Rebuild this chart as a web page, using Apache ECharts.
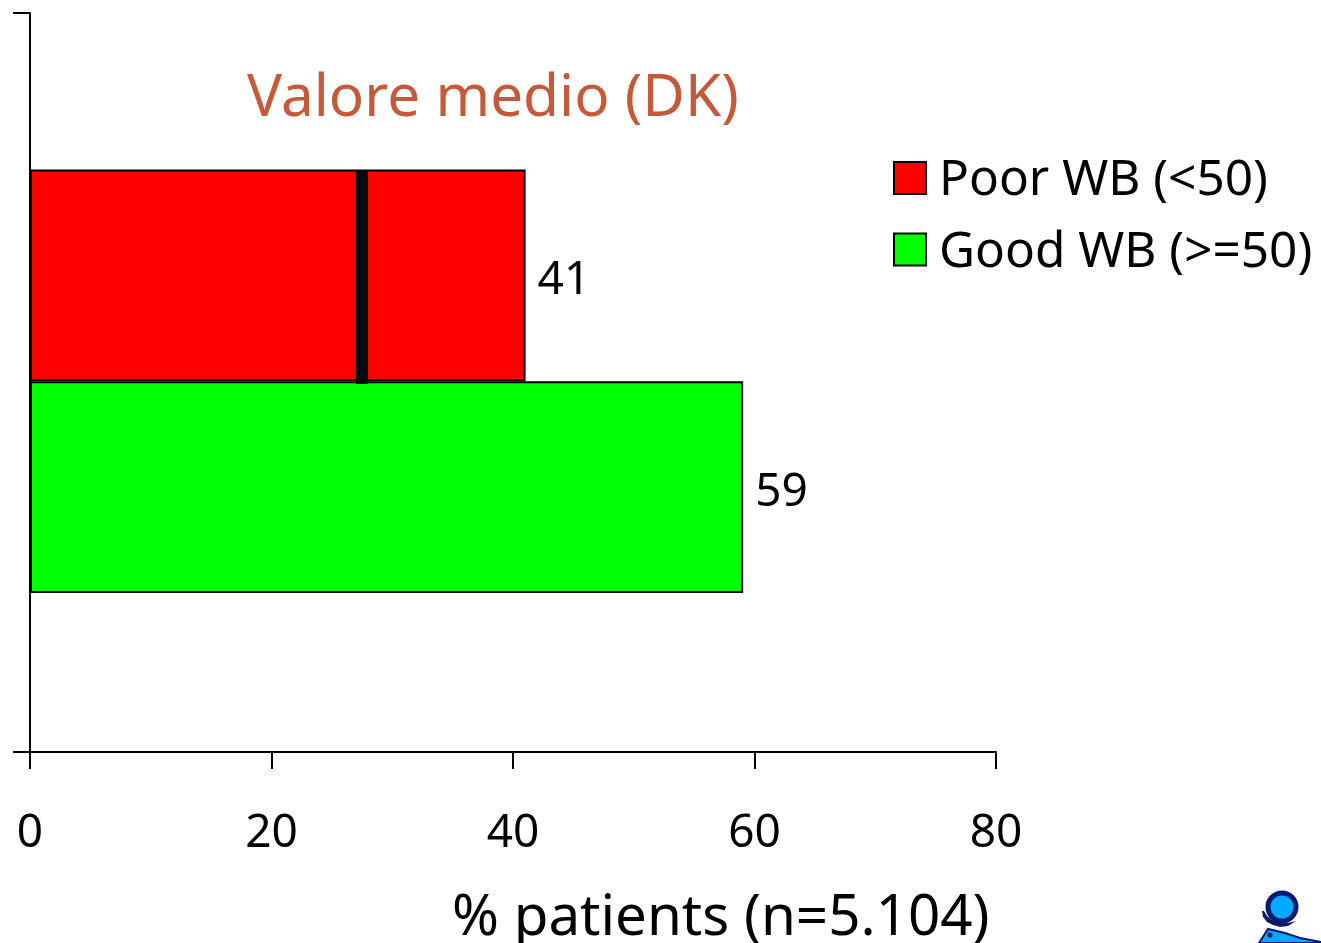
<!DOCTYPE html>
<html><head><meta charset="utf-8">
<style>html,body{margin:0;padding:0;background:#fff}#c{width:1321px;height:943px}</style>
<script src="https://cdn.jsdelivr.net/npm/echarts@6/dist/echarts.min.js"></script>
</head><body><div id="c"></div>
<script>
const categories = ['Poor WB (<50)', 'Good WB (>=50)'];
const poorValues = [41, null];
const goodValues = [null, 59];
const meanValue = 27.45;
const xTicks = [0, 20, 40, 60, 80];
const titleText = 'Valore medio (DK)';
const xName = '% patients (n=5.104)';
const FONT = '"Noto Sans"';

const chart = echarts.init(document.getElementById('c'), null, {renderer:'canvas'});
const barStyle = c => ({color:c, borderColor:'#000', borderWidth:2});
const lbl = {show:true, position:'right', distance:12, fontFamily:FONT, fontSize:46, color:'#000', offset:[0,5.5]};
chart.setOption({
  animation:false,
  backgroundColor:'#fff',
  title:[
    {text:titleText, left:242, top:65, textStyle:{fontFamily:FONT, fontWeight:'normal', fontSize:58.5, color:'#c55a3a'}},
    {text:xName, left:447, top:885, textStyle:{fontFamily:FONT, fontWeight:'normal', fontSize:56.5, color:'#000'}}
  ],
  legend:{
    left:893, top:150, padding:0, orient:'vertical', itemWidth:32, itemHeight:32, itemGap:15.5,
    data:categories, icon:'rect',
    formatter: n => '{s| }{a|' + n + '}',
    textStyle:{fontFamily:FONT, fontSize:49.5, color:'#000',
      rich:{
        s:{width:8, height:56, lineHeight:56, fontSize:10},
        a:{fontFamily:FONT, fontSize:49.5, color:'#000', height:50, lineHeight:50, verticalAlign:'bottom'}
      }}
  },
  grid:[
    {left:30, top:13, width:966, height:739},
    {left:30, top:169.5, width:967, height:423.5}
  ],
  xAxis:[
    {gridIndex:0, type:'value', min:xTicks[0], max:xTicks[xTicks.length-1], interval:20,
     axisLine:{show:true,lineStyle:{color:'#000',width:2}}, axisTick:{show:true,length:17,lineStyle:{color:'#000',width:2}},
     splitLine:{show:false}, axisLabel:{fontFamily:FONT,fontSize:46,color:'#000',margin:59}},
    {gridIndex:1, type:'value', min:0, max:80, show:false, splitLine:{show:false}}
  ],
  yAxis:[
    {gridIndex:0, type:'value', min:0, max:1, interval:1,
     axisLine:{show:true,onZero:false,lineStyle:{color:'#000',width:2}}, axisTick:{show:true,length:17,lineStyle:{color:'#000',width:2}},
     axisLabel:{show:false}, splitLine:{show:false}},
    {gridIndex:1, type:'category', data:categories, inverse:true, show:false}
  ],
  series:[
    {name:categories[0], type:'bar', xAxisIndex:1, yAxisIndex:1, stack:'a', barWidth:'100%', data:poorValues, itemStyle:barStyle('#ff0000'), label:lbl,
     markLine:{silent:true, symbol:'none', label:{show:false}, lineStyle:{color:'#050a10',width:12,type:'solid'},
       data:[[{xAxis:meanValue, y:171},{xAxis:meanValue, y:384}]]}},
    {name:categories[1], type:'bar', xAxisIndex:1, yAxisIndex:1, stack:'a', barWidth:'100%', data:goodValues, itemStyle:barStyle('#00ff00'), label:lbl}
  ],
  graphic:[
    {type:'group', silent:true, children:[
      {type:'polygon', shape:{points:[[1259,943],[1268,929],[1285,933],[1300,938],[1321,942],[1321,943]]}, style:{fill:'#00aaff',stroke:'#0a1a6e',lineWidth:2}},
      {type:'polygon', shape:{points:[[1262,911],[1263,917],[1267,922],[1273,925],[1280,927],[1288,926],[1296,921],[1288,923],[1280,923],[1272,920],[1267,916],[1264,911]]}, style:{fill:'#0a1a6e'}},
      {type:'circle', shape:{cx:1282,cy:907,r:14}, style:{fill:'#00aaff',stroke:'#0a1a6e',lineWidth:5}},
      {type:'circle', shape:{cx:1270,cy:935,r:2.5}, style:{fill:'#0a1a6e'}}
    ]}
  ]
});
</script></body></html>
